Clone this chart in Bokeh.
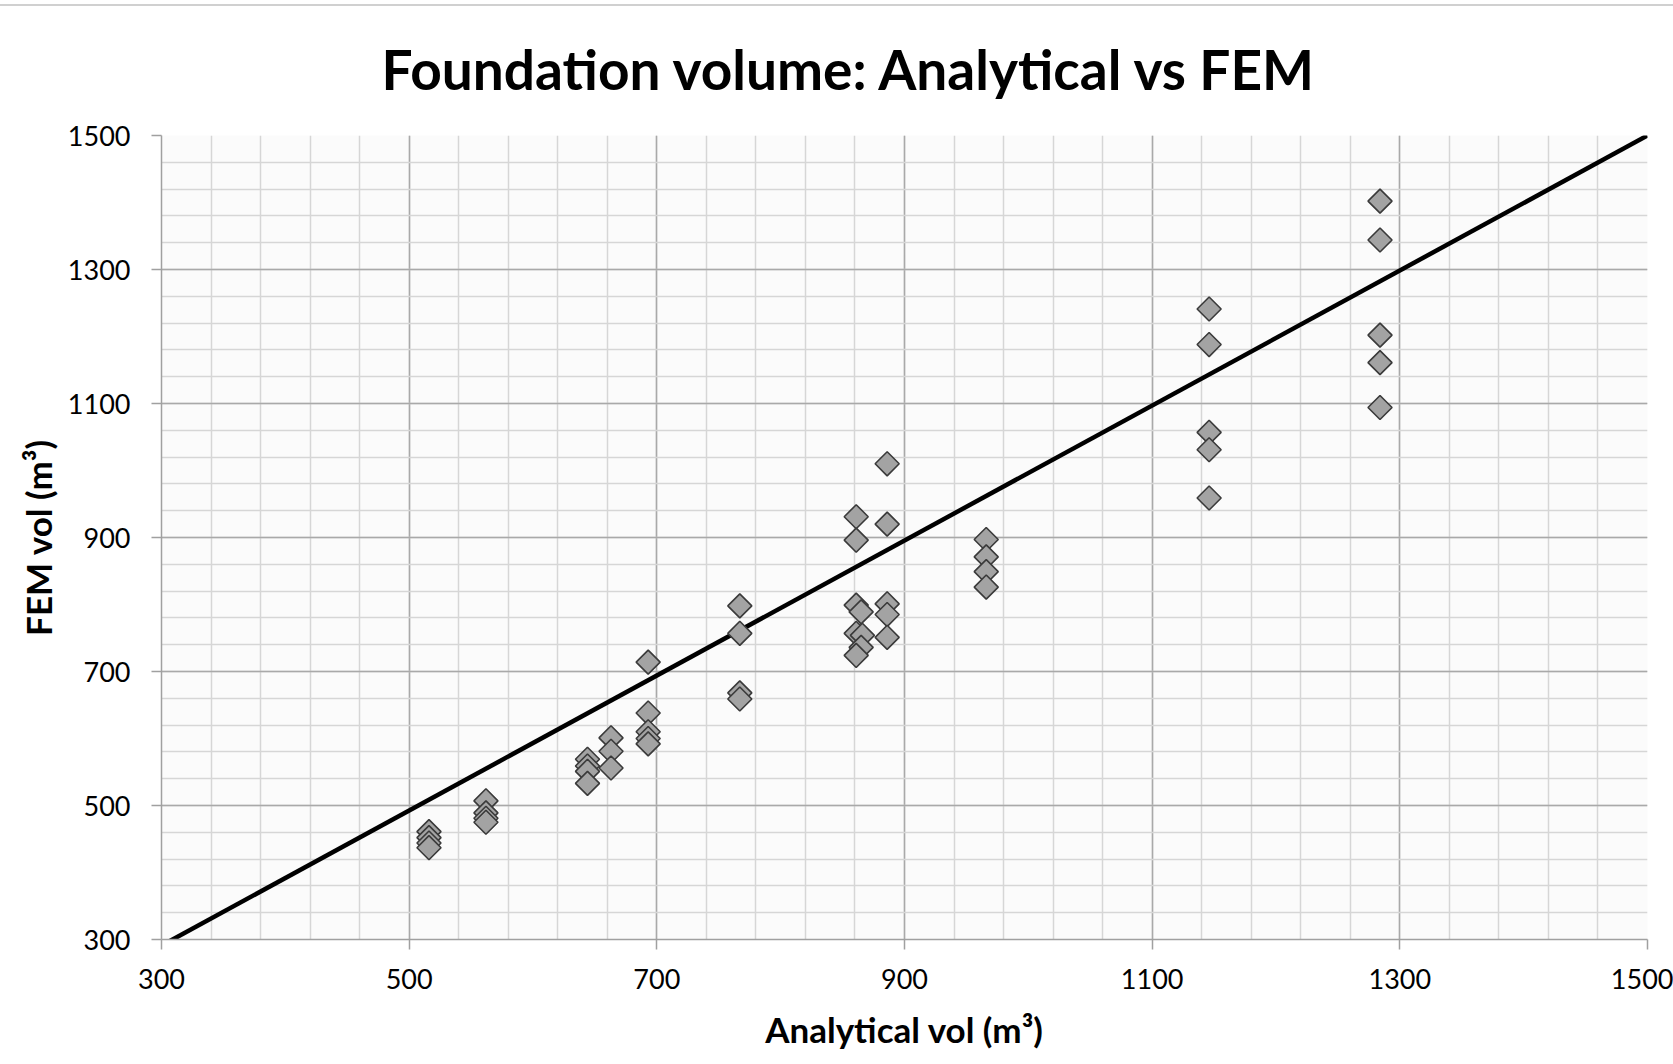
from bokeh.plotting import figure
from bokeh.models import FixedTicker, ColumnDataSource, Range1d
from bokeh.embed import file_html
from bokeh.resources import INLINE

# ---- data ----
analytical = [516, 516, 516, 516,
              562, 562, 562, 562,
              644, 644, 644, 644,
              663, 663, 663,
              693, 693, 693, 693, 693,
              767, 767, 767, 767,
              861, 861, 861, 865, 861, 866, 865, 861,
              886, 886, 886, 886, 886,
              966, 966, 966, 966,
              1146, 1146, 1146, 1146, 1146,
              1284, 1284, 1284, 1284, 1284]
fem = [461, 452, 444, 437,
       507, 489, 481, 475,
       569, 559, 551, 533,
       601, 581, 556,
       714, 638, 610, 600, 592,
       798, 757, 668, 659,
       931, 896, 799, 789, 757, 754, 736, 724,
       1010, 920, 801, 785, 751,
       897, 871, 849, 826,
       1241, 1188, 1057, 1031, 959,
       1402, 1344, 1202, 1161, 1094]
line_x = [300, 1500]
line_y = [291, 1500]

major_ticks = [300, 500, 700, 900, 1100, 1300, 1500]
minor_ticks = list(range(300, 1501, 40))

FONT = "Lato"

p = figure(width=1673, height=1064, output_backend="svg", toolbar_location=None,
           x_range=Range1d(300, 1500), y_range=Range1d(300, 1500),
           min_border_left=161, min_border_right=26, min_border_top=135,
           min_border_bottom=125)

p.background_fill_color = "#fbfbfb"
p.border_fill_color = None
p.outline_line_color = None
p.styles = {"box-shadow": "inset 0 4px 0 0 #ffffff, inset 0 6px 0 0 #d0d0d0"}

p.title.text = "Foundation volume: Analytical vs FEM"
p.title.align = "left"
p.title.offset = 220
p.title.text_font = FONT
p.title.text_font_style = "bold"
p.title.text_font_size = "55px"
p.title.text_color = "#000000"
p.title.standoff = 67

for ax, grid in ((p.xaxis[0], p.xgrid[0]), (p.yaxis[0], p.ygrid[0])):
    ax.ticker = FixedTicker(ticks=major_ticks, minor_ticks=minor_ticks)
    grid.ticker = FixedTicker(ticks=major_ticks, minor_ticks=minor_ticks)
    grid.grid_line_color = "#a9a9a9"
    grid.grid_line_width = 1.5
    grid.minor_grid_line_color = "#d6d6d6"
    grid.minor_grid_line_width = 1.5
    ax.axis_line_color = "#a0a0a0"
    ax.axis_line_width = 1.5
    ax.major_tick_line_color = "#a0a0a0"
    ax.major_tick_line_width = 1.5
    ax.major_tick_in = 0
    ax.major_tick_out = 10
    ax.minor_tick_line_color = None
    ax.major_label_text_font = FONT
    ax.major_label_text_font_size = "27px"
    ax.major_label_text_color = "#000000"
    ax.axis_label_text_font = FONT
    ax.axis_label_text_font_style = "bold"
    ax.axis_label_text_font_size = "35px"
    ax.axis_label_text_color = "#000000"

p.xaxis.axis_label = "Analytical vol (m³)"
p.yaxis.axis_label = "FEM vol (m³)"
p.xaxis.major_label_standoff = 19
p.yaxis.major_label_standoff = 21
p.xaxis.axis_label_standoff = 16
p.yaxis.axis_label_standoff = 6

src = ColumnDataSource(dict(x=analytical, y=fem))
p.line(line_x, line_y, line_color="#000000", line_width=4.5)
p.scatter("x", "y", source=src, marker="square", angle=0.785398, size=17,
          fill_color="#a3a3a3", line_color="#3a3a3a", line_width=1.6)

open("out.html", "w").write(file_html(p, INLINE))
